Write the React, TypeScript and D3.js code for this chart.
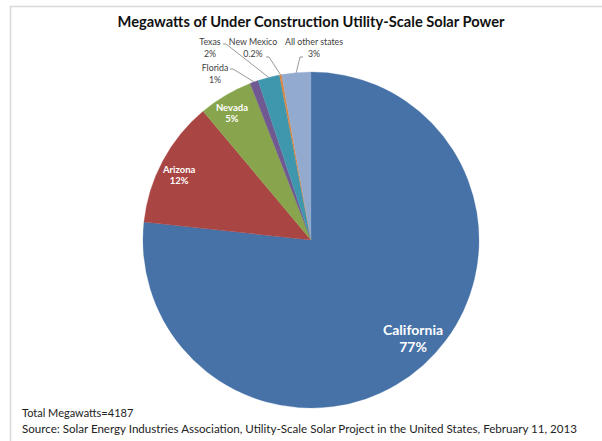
import React from "react";
import * as d3 from "d3";

const TITLE = "Megawatts of Under Construction Utility-Scale Solar Power";
const FOOT1 = "Total Megawatts=4187";
const FOOT2 = "Source: Solar Energy Industries Association, Utility-Scale Solar Project in the United States, February 11, 2013";

const states = ["California", "Arizona", "Nevada", "Florida", "Texas", "New Mexico", "All other states"];
const shares = [76.7, 12.2, 5.2, 0.8, 2.1, 0.2, 2.8];
const shareLabels = ["77%", "12%", "5%", "1%", "2%", "0.2%", "3%"];
const colors = ["#4672A8", "#A94543", "#88A54E", "#705890", "#3F97AE", "#DA843C", "#93AACF"];

// label layout: inside labels (polar, relative to slice mid angle) / outside labels (text anchor points)
const insideLayout: Record<string, { r: number; da: number; size: number; gap: number }> = {
  California: { r: 0.83, da: -0.089, size: 14, gap: 17 },
  Arizona: { r: 0.88, da: -0.02, size: 9.5, gap: 11 },
  Nevada: { r: 0.9, da: -0.016, size: 9.5, gap: 11 },
};
const outsideLayout: Record<string, { x: number; y: number; lx: number; ly: number; anchorEnd: "left" | "right" }> = {
  Florida: { x: 215, y: 71, lx: 230, ly: 69, anchorEnd: "right" },
  Texas: { x: 210, y: 45, lx: 223, ly: 44, anchorEnd: "right" },
  "New Mexico": { x: 253, y: 45, lx: 266, ly: 57, anchorEnd: "right" },
  "All other states": { x: 314, y: 45, lx: 303, ly: 57, anchorEnd: "left" },
};

const W = 602, H = 441;
const cx = 311, cy = 240, R = 168;
const FONT = "Lato, 'Open Sans', sans-serif";

export default function App() {
  const pie = d3.pie<number>().sort(null).value((d) => d)(shares);
  const arc = d3.arc<d3.PieArcDatum<number>>().innerRadius(0).outerRadius(R);

  return (
    <svg width={W} height={H} style={{ position: "absolute", left: 0, top: 0, background: "#fff" }} fontFamily={FONT}>
      <rect x={0} y={0} width={W} height={H} fill="#fff" />
      <line x1={10} y1={6.5} x2={W} y2={6.5} stroke="#d9d9d9" strokeWidth={1.5} />
      <line x1={10.5} y1={6} x2={10.5} y2={H} stroke="#d9d9d9" strokeWidth={1.5} />
      <text x={cx} y={27} textAnchor="middle" fontWeight="bold" fontSize={14.5} fill="#111" textLength={387} lengthAdjust="spacingAndGlyphs">{TITLE}</text>
      <g transform={`translate(${cx},${cy})`}>
        {pie.map((p, i) => (
          <path key={i} d={arc(p) || ""} fill={colors[i]} stroke={colors[i]} strokeWidth={0.3} />
        ))}
        {pie.map((p, i) => {
          const name = states[i];
          const lay = insideLayout[name];
          if (!lay) return null;
          const a = (p.startAngle + p.endAngle) / 2 + lay.da;
          const rr = R * lay.r;
          const x = Math.sin(a) * rr;
          const y = -Math.cos(a) * rr;
          return (
            <g key={"l" + i} fontWeight="bold" fill="#fff" textAnchor="middle" fontSize={lay.size}>
              <text x={x} y={y}>{name}</text>
              <text x={x} y={y + lay.gap}>{shareLabels[i]}</text>
            </g>
          );
        })}
      </g>
      {pie.map((p, i) => {
        const name = states[i];
        const lay = outsideLayout[name];
        if (!lay) return null;
        const a = (p.startAngle + p.endAngle) / 2;
        const px = cx + Math.sin(a) * R;
        const py = cy - Math.cos(a) * R;
        return (
          <g key={"o" + i} fontSize={8.8} fill="#404040" textAnchor="middle">
            <text x={lay.x} y={lay.y}>{name}</text>
            <text x={lay.x} y={lay.y + 12}>{shareLabels[i]}</text>
            <polyline points={`${lay.lx},${lay.ly} ${lay.anchorEnd === "right" ? lay.lx + 3 : lay.lx - 3},${lay.ly} ${px},${py}`} fill="none" stroke="#7f7f7f" strokeWidth={0.8} />
          </g>
        );
      })}
      <text x={22} y={417} fontSize={11} fill="#222">{FOOT1}</text>
      <text x={22} y={433} fontSize={11} fill="#222" textLength={555} lengthAdjust="spacingAndGlyphs">{FOOT2}</text>
    </svg>
  );
}
